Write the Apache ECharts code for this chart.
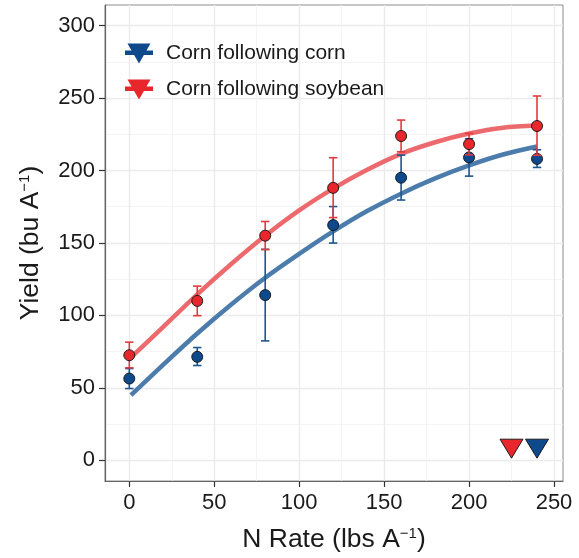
<!DOCTYPE html>
<html>
<head>
<meta charset="utf-8">
<script src="https://cdn.jsdelivr.net/npm/echarts@6/dist/echarts.min.js"></script>
<style>
html,body{margin:0;padding:0;background:#fff;}
#chart{width:579px;height:558px;}
</style>
</head>
<body>
<div id="chart"></div>
<script>
// ---- data ----
const nRates = [0, 40, 80, 120, 160, 200, 240];
const cornCornMean  = [56.4, 71.4, 114.0, 162.3, 195.0, 209.0, 208.0];
const cornCornLow   = [49.5, 65.4, 82.4, 149.9, 179.6, 196.1, 202.1];
const cornCornHigh  = [63.3, 77.8, 145.6, 175.1, 210.6, 221.9, 214.3];
const cornSoyMean   = [72.5, 110.0, 155.0, 188.0, 223.8, 218.2, 230.7];
const cornSoyLow    = [63.8, 99.8, 145.4, 167.5, 212.9, 210.8, 210.5];
const cornSoyHigh   = [81.5, 120.2, 164.8, 208.8, 234.8, 225.6, 251.4];

const curveX        = [1, 20, 40, 60, 80, 100, 120, 140, 160, 180, 200, 220, 240];
const cornCornCurve = [45, 66, 87.5, 107.5, 126, 142.5, 158, 172, 184, 194.5, 203.5, 211, 216.5];
const cornSoyCurve  = [71, 92, 114.5, 135.5, 155, 172.5, 187.5, 200.5, 211.5, 219.5, 225.5, 229.5, 231];

const optimumX = { corn: 240, soy: 225 };
const optimumY = 8;

const xMajor = [0, 50, 100, 150, 200, 250];
const xMinor = [25, 75, 125, 175, 225];
const yMajor = [0, 50, 100, 150, 200, 250, 300];
const yMinor = [25, 75, 125, 175, 225, 275];

const seriesNames = ['Corn following corn', 'Corn following soybean'];

// ---- styling ----
const FONT = 'Liberation Sans, Arial, sans-serif';
const blueDark = '#0e4a8b', redDark = '#e8272c';
const blueLine = '#4b7cab', redLine = '#ec6a6d';
const blueBar = '#1f5590', redBar = '#e23a3f';

const zip = (a, b) => a.map((v, i) => [v, b[i]]);
const zip3 = (a, b, c) => a.map((v, i) => [v, b[i], c[i]]);

function errorBars(color) {
  return function (params, api) {
    const x = api.value(0);
    const lo = api.coord([x, api.value(1)]);
    const hi = api.coord([x, api.value(2)]);
    const hw = 4.2;
    const st = { stroke: color, lineWidth: 1.6 };
    return {
      type: 'group',
      children: [
        { type: 'line', shape: { x1: lo[0], y1: lo[1], x2: hi[0], y2: hi[1] }, style: st },
        { type: 'line', shape: { x1: lo[0] - hw, y1: lo[1], x2: lo[0] + hw, y2: lo[1] }, style: st },
        { type: 'line', shape: { x1: hi[0] - hw, y1: hi[1], x2: hi[0] + hw, y2: hi[1] }, style: st }
      ]
    };
  };
}

const legendIcon = 'path://M0,7 L28,7 L28,11.5 L0,11.5 Z M2.5,0 L25.5,0 L14,20 Z';

const chart = echarts.init(document.getElementById('chart'), null, { renderer: 'canvas' });
const option = {
  animation: false,
  textStyle: { fontFamily: FONT },
  grid: {
    left: 105, right: 16, top: 5, bottom: 77,
    show: true, borderColor: '#8c8c8c', borderWidth: 1, backgroundColor: '#fff'
  },
  legend: {
    orient: 'vertical',
    left: 120, top: 38,
    itemWidth: 28, itemHeight: 20, itemGap: 15,
    icon: legendIcon,
    itemStyle: { borderWidth: 0 },
    textStyle: { fontSize: 21, color: '#1a1a1a', fontFamily: FONT, padding: [0, 0, 0, 8], lineHeight: 20 },
    data: seriesNames
  },
  xAxis: [{
    type: 'value', min: -14.3, max: 255.3,
    name: 'N Rate (lbs A{sup|−1})',
    nameLocation: 'middle', nameGap: 45,
    nameTextStyle: {
      fontSize: 26.5, color: '#1a1a1a', fontFamily: FONT, verticalAlign: 'top',
      rich: { sup: { fontSize: 15, verticalAlign: 'top', color: '#1a1a1a', fontFamily: FONT } }
    },
    axisLine: { show: true, onZero: false, lineStyle: { color: '#666', width: 1.2 } },
    axisTick: { show: true, length: 6, customValues: xMajor, lineStyle: { color: '#333', width: 1.2 } },
    axisLabel: { customValues: xMajor, fontSize: 22, color: '#1a1a1a', margin: 11, fontFamily: FONT },
    splitLine: { show: true, lineStyle: { color: '#ebebeb', width: 1.4 } }
  }, {
    type: 'value', min: -14.3, max: 255.3, position: 'bottom',
    axisLine: { show: false }, axisLabel: { show: false },
    axisTick: { show: false, customValues: xMinor },
    splitLine: { show: true, lineStyle: { color: '#f1f1f1', width: 0.8 } }
  }],
  yAxis: [{
    type: 'value', min: -14.3, max: 314.2,
    name: 'Yield (bu A{sup|−1})',
    nameLocation: 'middle', nameGap: 61,
    nameTextStyle: {
      fontSize: 26.5, color: '#1a1a1a', fontFamily: FONT,
      rich: { sup: { fontSize: 15, verticalAlign: 'top', color: '#1a1a1a', fontFamily: FONT } }
    },
    axisLine: { show: true, onZero: false, lineStyle: { color: '#666', width: 1.2 } },
    axisTick: { show: true, length: 6, customValues: yMajor, lineStyle: { color: '#333', width: 1.2 } },
    axisLabel: { customValues: yMajor, fontSize: 22, color: '#1a1a1a', margin: 10, fontFamily: FONT },
    splitLine: { show: true, lineStyle: { color: '#ebebeb', width: 1.4 } }
  }, {
    type: 'value', min: -14.3, max: 314.2, position: 'left',
    axisLine: { show: false }, axisLabel: { show: false },
    axisTick: { show: false, customValues: yMinor },
    splitLine: { show: true, lineStyle: { color: '#f1f1f1', width: 0.8 } }
  }],
  series: [
    {
      type: 'line', name: 'cc-fit', data: zip(curveX, cornCornCurve), smooth: 0.3,
      showSymbol: false, lineStyle: { color: blueLine, width: 4.5 }, z: 2, silent: true
    },
    {
      type: 'line', name: 'cs-fit', data: zip(curveX, cornSoyCurve), smooth: 0.3,
      showSymbol: false, lineStyle: { color: redLine, width: 4.5 }, z: 2, silent: true
    },
    {
      type: 'custom', name: 'cc-err', renderItem: errorBars(blueBar),
      data: zip3(nRates, cornCornLow, cornCornHigh), encode: { x: 0, y: [1, 2] }, z: 3
    },
    {
      type: 'scatter', name: 'cc-pts', data: zip(nRates, cornCornMean), symbol: 'circle', symbolSize: 11,
      itemStyle: { color: blueDark, borderColor: '#111', borderWidth: 0.9, opacity: 1 }, z: 4
    },
    {
      type: 'custom', name: 'cs-err', renderItem: errorBars(redBar),
      data: zip3(nRates, cornSoyLow, cornSoyHigh), encode: { x: 0, y: [1, 2] }, z: 5
    },
    {
      type: 'scatter', name: 'cs-pts', data: zip(nRates, cornSoyMean), symbol: 'circle', symbolSize: 11,
      itemStyle: { color: redDark, borderColor: '#111', borderWidth: 0.9, opacity: 1 }, z: 6
    },
    {
      type: 'scatter', name: seriesNames[0], data: [[optimumX.corn, optimumY]],
      symbol: 'triangle', symbolRotate: 180, symbolSize: [23, 19],
      itemStyle: { color: blueDark, borderColor: '#111', borderWidth: 0.9, opacity: 1 }, z: 6
    },
    {
      type: 'scatter', name: seriesNames[1], data: [[optimumX.soy, optimumY]],
      symbol: 'triangle', symbolRotate: 180, symbolSize: [23, 19],
      itemStyle: { color: redDark, borderColor: '#111', borderWidth: 0.9, opacity: 1 }, z: 6
    }
  ]
};
chart.setOption(option);
</script>
</body>
</html>
